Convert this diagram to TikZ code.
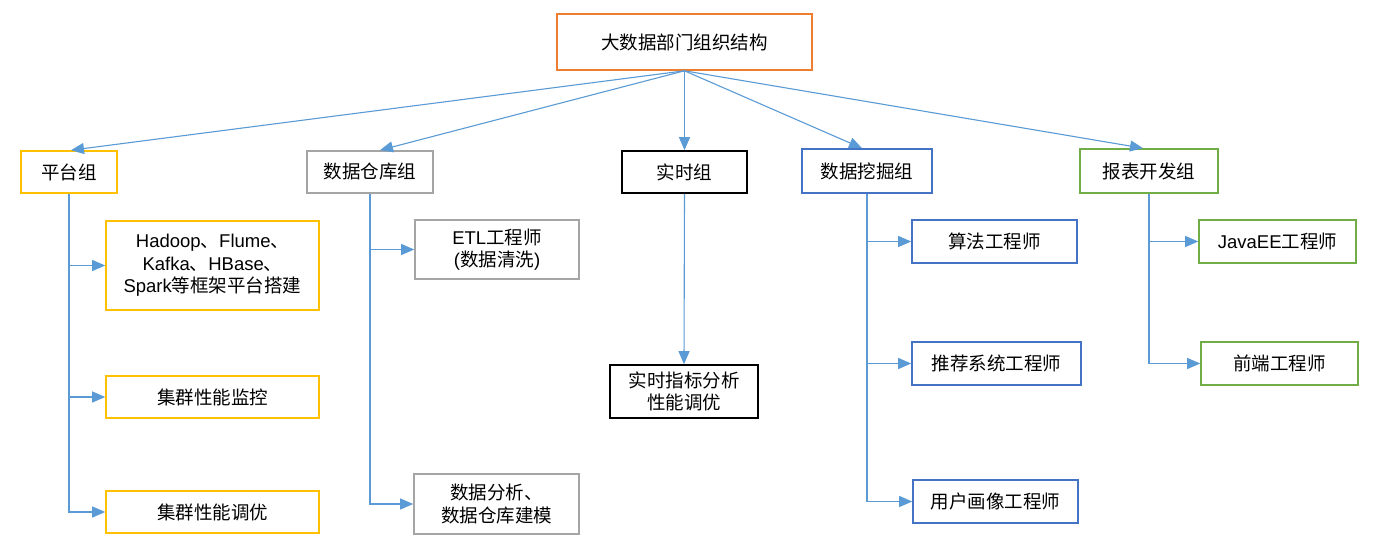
\documentclass[tikz,border=0pt]{standalone}
\usepackage{fontspec}
\setmainfont{Noto Sans CJK SC}
\newfontfamily\lat{Liberation Sans}
\usetikzlibrary{arrows.meta}
\definecolor{cOrange}{HTML}{ED7D31}
\definecolor{cYellow}{HTML}{FFC000}
\definecolor{cGray}{HTML}{A5A5A5}
\definecolor{cBlue}{HTML}{4472C4}
\definecolor{cGreen}{HTML}{70AD47}
\definecolor{cLine}{HTML}{5B9BD5}
\begin{document}
\begin{tikzpicture}[x=1pt,y=-1pt,
  box/.style={draw, line width=1.6pt, inner sep=0pt, align=center,
    font=\fontsize{18.5}{22.5}\selectfont},
  link/.style={draw=cLine, line width=1.1pt, -{Triangle[length=13pt,width=11pt]}}]
\useasboundingbox (0,0) rectangle (1398,544);
\fill[white] (0,0) rectangle (1398,544);

\node[box, draw=cOrange, minimum width=255, minimum height=56] (top) at (684.5,42) {大数据部门组织结构};

\node[box, draw=cYellow, minimum width=96, minimum height=42] (pt) at (69,172) {平台组};
\node[box, draw=cGray, minimum width=126, minimum height=42] (dw) at (370,172) {数据仓库组};
\node[box, draw=black, minimum width=125, minimum height=42] (rt) at (684.5,172) {实时组};
\node[box, draw=cBlue, minimum width=130, minimum height=44] (wj) at (867,171) {数据挖掘组};
\node[box, draw=cGreen, minimum width=138, minimum height=44] (bb) at (1149,171) {报表开发组};

\node[box, draw=cYellow, minimum width=213, minimum height=89] (hadoop) at (212.5,265.5)
  {{\lat Hadoop}、{\lat Flume}、\\{\lat Kafka}、{\lat HBase}、\\{\lat Spark}等框架平台搭建};
\node[box, draw=cYellow, minimum width=213, minimum height=42] (jq1) at (212.5,397) {集群性能监控};
\node[box, draw=cYellow, minimum width=213, minimum height=42] (jq2) at (212.5,512) {集群性能调优};

\node[box, draw=cGray, minimum width=164, minimum height=59] (etl) at (497,249.5) {{\lat ETL}工程师\\{\lat (}数据清洗{\lat )}};
\node[box, draw=cGray, minimum width=165, minimum height=60] (sjfx) at (496.5,504) {数据分析、\\数据仓库建模};

\node[box, draw=black, minimum width=148, minimum height=53] (rtfx) at (684,391.5) {实时指标分析\\性能调优};

\node[box, draw=cBlue, minimum width=165, minimum height=43] (sf) at (994.5,241.5) {算法工程师};
\node[box, draw=cBlue, minimum width=169, minimum height=43] (tj) at (996.5,363.5) {推荐系统工程师};
\node[box, draw=cBlue, minimum width=165, minimum height=43] (hx) at (995.5,501.5) {用户画像工程师};

\node[box, draw=cGreen, minimum width=157, minimum height=43] (java) at (1277.5,241.5) {{\lat JavaEE}工程师};
\node[box, draw=cGreen, minimum width=157, minimum height=43] (qd) at (1279.5,363.5) {前端工程师};

\draw[link] (top.south) -- ([xshift=2pt]pt.north);
\draw[link] (top.south) -- ([xshift=10pt]dw.north);
\draw[link] (top.south) -- (rt.north);
\draw[link] (top.south) -- ([xshift=-5pt]wj.north);
\draw[link] (top.south) -- ([xshift=-6pt]bb.north);

\draw[link] (pt.south) |- (jq2.west);
\draw[link] (pt.south |- hadoop.west) -- (hadoop.west);
\draw[link] (pt.south |- jq1.west) -- (jq1.west);

\draw[link] (dw.south) |- (sjfx.west);
\draw[link] (dw.south |- etl.west) -- (etl.west);

\draw[link] (rt.south) -- (rtfx.north);

\draw[link] (wj.south) |- (hx.west);
\draw[link] (wj.south |- sf.west) -- (sf.west);
\draw[link] (wj.south |- tj.west) -- (tj.west);

\draw[link] (bb.south) |- (qd.west);
\draw[link] (bb.south |- java.west) -- (java.west);
\end{tikzpicture}
\end{document}
